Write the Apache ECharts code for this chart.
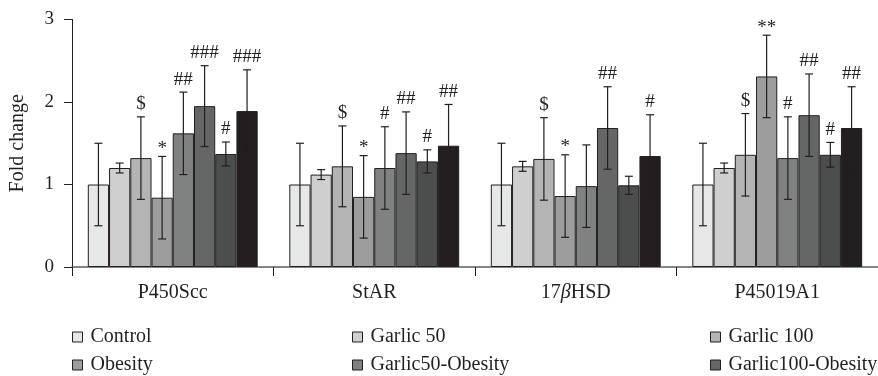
<!DOCTYPE html>
<html><head><meta charset="utf-8">
<script src="https://cdn.jsdelivr.net/npm/echarts@6/dist/echarts.min.js"></script>
<style>html,body{margin:0;padding:0;background:#fff}#c{width:878px;height:376px}</style>
</head><body><div id="c"></div>
<script>
var categories = ['P450Scc', 'StAR', '17βHSD', 'P45019A1'];
var seriesNames = ['Control', 'Garlic 50', 'Garlic 100', 'Obesity', 'Garlic50-Obesity', 'Garlic100-Obesity', 'Series 7', 'Series 8'];
var legendNames = ['Control', 'Garlic 50', 'Garlic 100', 'Obesity', 'Garlic50-Obesity', 'Garlic100-Obesity'];
var yTicks = [0, 1, 2, 3];

var control   = [1.00, 1.00, 1.00, 1.00];
var garlic50  = [1.20, 1.12, 1.22, 1.20];
var garlic100 = [1.32, 1.22, 1.31, 1.36];
var obesity   = [0.84, 0.85, 0.86, 2.31];
var g50ob     = [1.62, 1.20, 0.98, 1.32];
var g100ob    = [1.95, 1.38, 1.685, 1.84];
var series7   = [1.37, 1.28, 0.99, 1.36];
var series8   = [1.89, 1.47, 1.345, 1.685];

var errControl   = [0.5, 0.5, 0.5, 0.5];
var errGarlic50  = [0.06, 0.06, 0.06, 0.06];
var errGarlic100 = [0.5, 0.49, 0.5, 0.5];
var errObesity   = [0.5, 0.5, 0.5, 0.5];
var errG50ob     = [0.5, 0.5, 0.5, 0.5];
var errG100ob    = [0.49, 0.5, 0.5, 0.5];
var errSeries7   = [0.145, 0.14, 0.11, 0.15];
var errSeries8   = [0.5, 0.5, 0.5, 0.5];

var lblControl   = ['', '', '', ''];
var lblGarlic50  = ['', '', '', ''];
var lblGarlic100 = ['$', '$', '$', '$'];
var lblObesity   = ['*', '*', '*', '**'];
var lblG50ob     = ['##', '#', '', '#'];
var lblG100ob    = ['###', '##', '##', '##'];
var lblSeries7   = ['#', '#', '', '#'];
var lblSeries8   = ['###', '##', '#', '##'];

var values = [control, garlic50, garlic100, obesity, g50ob, g100ob, series7, series8];
var errors = [errControl, errGarlic50, errGarlic100, errObesity, errG50ob, errG100ob, errSeries7, errSeries8];
var marks  = [lblControl, lblGarlic50, lblGarlic100, lblObesity, lblG50ob, lblG100ob, lblSeries7, lblSeries8];
var colors = ['#e6e7e7', '#cecfce', '#b3b4b3', '#9c9d9c', '#808281', '#656766', '#4b4e4d', '#231f20'];

var FONT = '"Liberation Serif", "DejaVu Serif", serif';
var INK = '#231f20';
var GAP = 0.157;

var errData = [], errLabels = [];
for (var s = 0; s < values.length; s++) {
  for (var c = 0; c < categories.length; c++) {
    errData.push([c, s, values[s][c], errors[s][c]]);
    errLabels.push(marks[s][c]);
  }
}

var series = values.map(function (v, i) {
  return {
    name: seriesNames[i], type: 'bar', data: v,
    barGap: 0, barCategoryGap: (GAP * 100) + '%',
    itemStyle: { color: colors[i], borderColor: INK, borderWidth: 1 },
    emphasis: { disabled: true }, z: 2
  };
});

series.push({
  type: 'custom', name: 'errors', z: 5, silent: true,
  encode: { x: 0, y: 2 },
  data: errData,
  renderItem: function (params, api) {
    var ci = api.value(0), si = api.value(1), v = api.value(2), e = api.value(3);
    var band = api.size([1, 0])[0];
    var groupW = band * (1 - GAP);
    var bw = groupW / 8;
    var cx = api.coord([ci, 0])[0] - groupW / 2 + bw * (si + 0.5);
    var yT = api.coord([ci, v + e])[1];
    var yB = api.coord([ci, v - e])[1];
    var cap = 4;
    var st = { stroke: INK, lineWidth: 1.2 };
    var children = [
      { type: 'line', shape: { x1: cx, y1: yT, x2: cx, y2: yB }, style: st },
      { type: 'line', shape: { x1: cx - cap, y1: yT, x2: cx + cap, y2: yT }, style: st },
      { type: 'line', shape: { x1: cx - cap, y1: yB, x2: cx + cap, y2: yB }, style: st }
    ];
    var t = errLabels[params.dataIndex];
    if (t) {
      var isStar = t.indexOf('*') >= 0;
      children.push({
        type: 'text',
        style: { text: t, x: cx, y: yT - (isStar ? -2 : 3), align: 'center', verticalAlign: 'bottom',
                 fill: INK, font: '19px ' + FONT }
      });
    }
    return { type: 'group', children: children };
  }
});

function legendBlock(names, left) {
  return {
    data: names, left: left, top: 322, height: 80, orient: 'vertical', itemGap: 8,
    itemWidth: 10, itemHeight: 10, icon: 'rect', selectedMode: false,
    textStyle: { fontFamily: FONT, fontSize: 20, color: INK, padding: [0, 0, 0, 3] },
    itemStyle: { borderColor: INK, borderWidth: 1 }
  };
}

var chart = echarts.init(document.getElementById('c'), null, { renderer: 'canvas' });
chart.setOption({
  animation: false,
  textStyle: { fontFamily: FONT },
  grid: { left: 69, right: -8, top: 19.5, bottom: 109, containLabel: false },
  legend: [
    legendBlock([legendNames[0], legendNames[3]], 67),
    legendBlock([legendNames[1], legendNames[4]], 347),
    legendBlock([legendNames[2], legendNames[5]], 705)
  ],
  xAxis: {
    type: 'category', data: categories,
    axisLine: { lineStyle: { color: '#5c5d5e', width: 1.5 } },
    axisTick: { show: true, length: 9, alignWithLabel: false, lineStyle: { color: INK, width: 1 } },
    axisLabel: {
      margin: 16, fontFamily: FONT, fontSize: 20, color: INK,
      formatter: function (v) { return v.replace('β', '{i|β}'); },
      rich: { i: { fontStyle: 'italic', fontFamily: FONT, fontSize: 20, color: INK } }
    }
  },
  yAxis: {
    type: 'value', min: yTicks[0], max: yTicks[yTicks.length - 1], interval: 1,
    name: 'Fold change', nameLocation: 'middle', nameGap: 44,
    nameTextStyle: { fontFamily: FONT, fontSize: 20, color: INK },
    axisLine: { show: true, lineStyle: { color: INK, width: 1 } },
    axisTick: { show: true, length: 8, lineStyle: { color: INK } },
    axisLabel: { margin: 18, fontFamily: FONT, fontSize: 19, color: INK },
    splitLine: { show: false }
  },
  series: series
});
</script>
</body></html>
